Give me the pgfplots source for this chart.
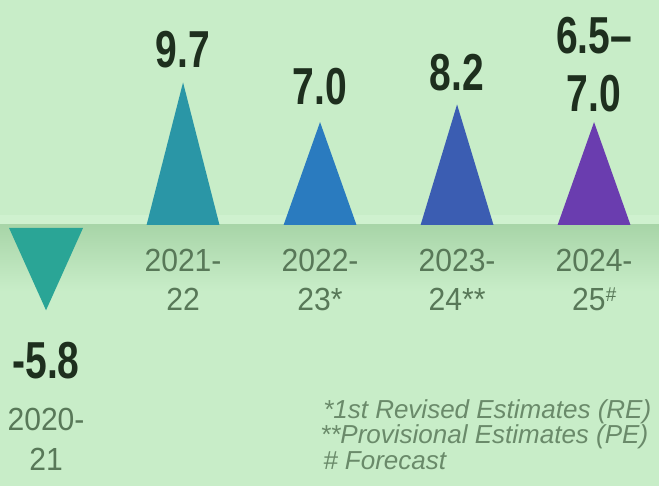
\documentclass[border=0pt]{standalone}
\usepackage{fontspec}
\setmainfont{Liberation Sans}
\usepackage{graphicx}
\usepackage{pgfplots}
\pgfplotsset{compat=1.18}

\definecolor{bg}{HTML}{C8EDC8}
\definecolor{band}{HTML}{A8D5A8}
\definecolor{strip}{HTML}{CFF1CF}
\definecolor{c0}{HTML}{2AA596}
\definecolor{c1}{HTML}{2A96A6}
\definecolor{c2}{HTML}{2A7BBF}
\definecolor{c3}{HTML}{3B5DB2}
\definecolor{c4}{HTML}{6A3DAF}
\definecolor{valtxt}{HTML}{1E2F1E}
\definecolor{cattxt}{HTML}{587858}
\definecolor{notetxt}{HTML}{6A8A6A}

% value labels: bold, condensed
\newcommand\val[1]{\scalebox{0.75}[1]{\fontsize{52bp}{60bp}\selectfont\bfseries #1}}
\newcommand\cat[1]{\scalebox{0.94}[1]{\fontsize{32bp}{38bp}\selectfont #1}}
\newcommand\note[1]{{\fontsize{26bp}{28bp}\selectfont\itshape #1}}

\begin{document}
\begin{tikzpicture}
\begin{axis}[
  hide axis,
  scale only axis,
  width=659bp, height=486bp,
  xmin=-0.336, xmax=4.474,
  ymin=-17.755, ymax=15.306,
  clip=false,
  ]
  \coordinate (bl) at (rel axis cs:0,0);
  \coordinate (tr) at (rel axis cs:1,1);

  % background and baseline band
  \fill[bg] (rel axis cs:0,0) rectangle (rel axis cs:1,1);
  \fill[strip] (axis cs:-0.336,0) rectangle (axis cs:4.474,0.7);
  \shade[top color=band, bottom color=bg] (axis cs:-0.336,0) rectangle (axis cs:4.474,-4.5);

  % triangles (GDP growth, %)
  \addplot[fill=c0, draw=none] coordinates {(-0.27,-0.2) (0,-5.8) (0.27,-0.2)} --cycle;
  \addplot[fill=c1, draw=none] coordinates {(0.734,0) (1,9.7) (1.266,0)} --cycle;
  \addplot[fill=c2, draw=none] coordinates {(1.734,0) (2,7.0) (2.266,0)} --cycle;
  \addplot[fill=c3, draw=none] coordinates {(2.734,0) (3,8.2) (3.266,0)} --cycle;
  \addplot[fill=c4, draw=none] coordinates {(3.734,0) (4,7.0) (4.266,0)} --cycle;

  % values
  \begin{scope}[every node/.style={anchor=base, inner sep=0pt, text=valtxt}]
    \node at (axis cs:0,-10.41) {\val{-5.8}};
    \node at (axis cs:1,10.68) {\val{9.7}};
    \node at (axis cs:2,8.2) {\val{7.0}};
    \node at (axis cs:3,9.18) {\val{8.2}};
    \node at (axis cs:4,11.70) {\val{6.5–}};
    \node at (axis cs:4,7.69) {\val{7.0}};
  \end{scope}

  % years
  \begin{scope}[every node/.style={anchor=base, inner sep=0pt, text=cattxt}]
    \node at (axis cs:0,-13.95) {\cat{2020-}};
    \node at (axis cs:0,-16.67) {\cat{21}};
    \node at (axis cs:1,-3.13) {\cat{2021-}};
    \node at (axis cs:1,-5.85) {\cat{22}};
    \node at (axis cs:2,-3.13) {\cat{2022-}};
    \node at (axis cs:2,-5.85) {\cat{23*}};
    \node at (axis cs:3,-3.13) {\cat{2023-}};
    \node at (axis cs:3,-5.85) {\cat{24**}};
    \node at (axis cs:4,-3.13) {\cat{2024-}};
    \node at (axis cs:4,-5.85) {\cat{25\raisebox{0.3em}{\fontsize{20bp}{20bp}\selectfont\itshape\#}}};
  \end{scope}

  % notes
  \begin{scope}[every node/.style={anchor=base west, inner sep=0pt, text=notetxt}]
    \node at (axis cs:2.022,-13.13) {\note{*1st Revised Estimates (RE)}};
    \node at (axis cs:2.000,-14.83) {\note{**Provisional Estimates (PE)}};
    \node at (axis cs:2.022,-16.60) {\note{\# Forecast}};
  \end{scope}
\end{axis}
\pgfresetboundingbox
\useasboundingbox (bl) rectangle (tr);
\end{tikzpicture}
\end{document}
